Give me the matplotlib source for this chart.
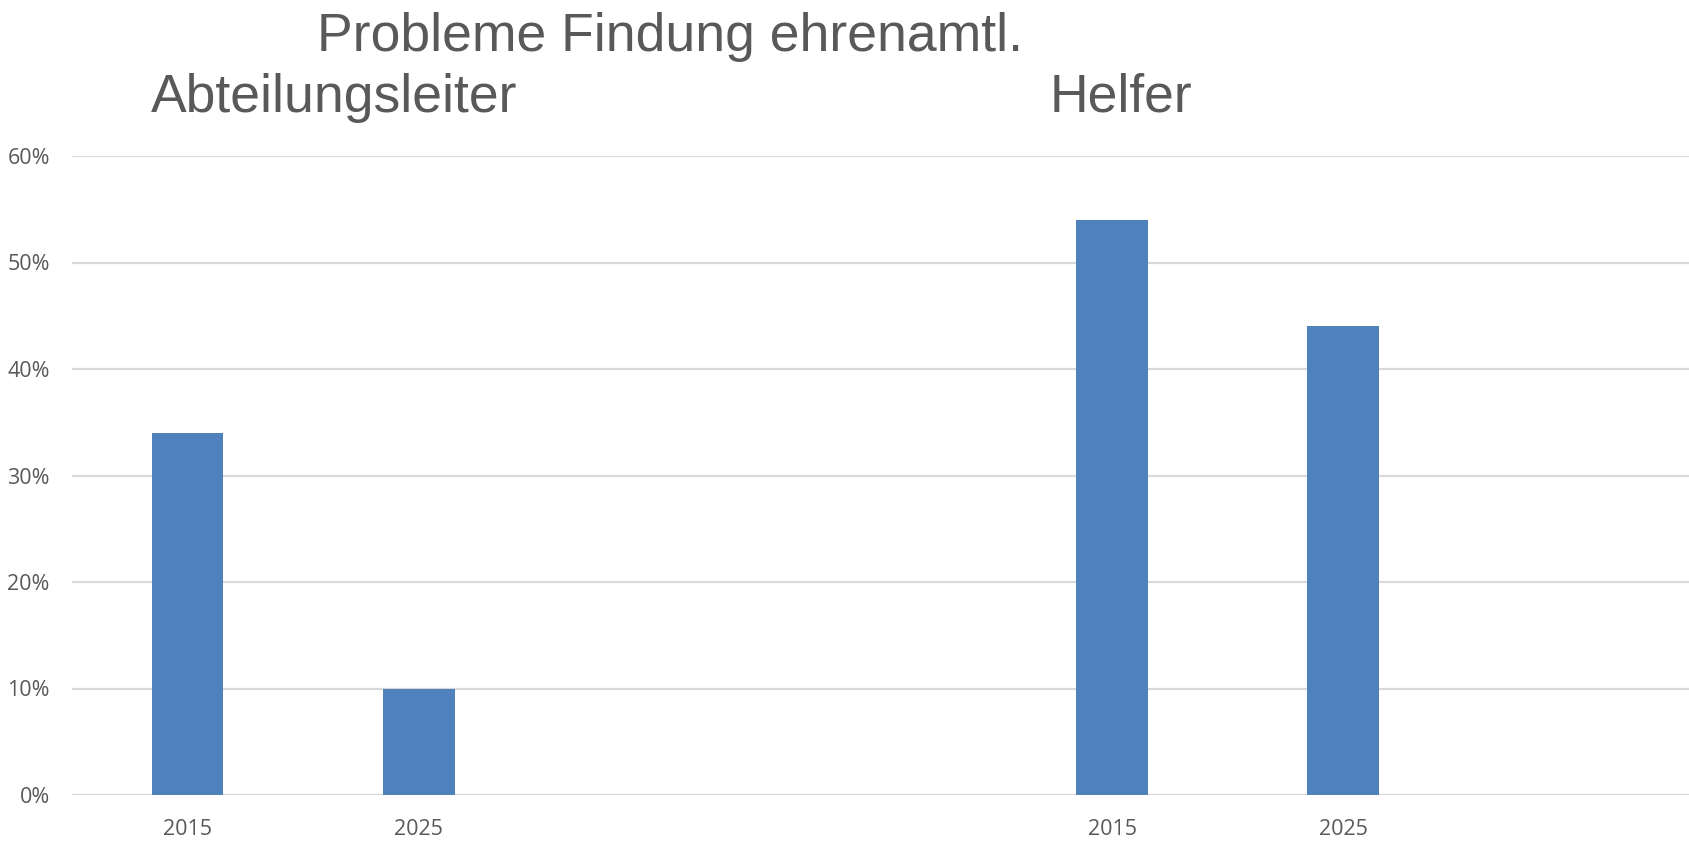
import matplotlib
matplotlib.use("Agg")
import matplotlib.pyplot as plt
from matplotlib.ticker import PercentFormatter

categories = ["2015", "2025", "", "", "2015", "2025", ""]
values = [0.34, 0.10, None, None, 0.54, 0.44, None]
y_ticks = [0, 0.1, 0.2, 0.3, 0.4, 0.5, 0.6]
title = "Probleme Findung ehrenamtl."
group_labels = ["Abteilungsleiter", "Helfer"]

fig = plt.figure(figsize=(16.9, 8.44), dpi=100)
ax = fig.add_axes([72/1690, 49/844, 1 - 72/1690, (795-156)/844])

x = list(range(len(categories)))
xs = [i for i, v in zip(x, values) if v is not None]
vs = [v for v in values if v is not None]
ax.bar(xs, vs, width=0.31, color="#4f81bd", zorder=3)

ax.set_xlim(-0.5, len(categories) - 0.5)
ax.set_ylim(0, 0.6)
ax.set_yticks(y_ticks)
ax.yaxis.set_major_formatter(PercentFormatter(1.0, decimals=0))
ax.set_xticks(x)
ax.set_xticklabels(categories)
ax.grid(axis="y", color="#d9d9d9", linewidth=1.6, zorder=0)
for s in ax.spines.values():
    s.set_visible(False)
ax.tick_params(axis="both", length=0, labelsize=15.5, colors="#595959")
ax.tick_params(axis="y", pad=16)
ax.tick_params(axis="x", pad=17)
for lab in ax.get_xticklabels() + ax.get_yticklabels():
    lab.set_fontfamily("Open Sans")

tkw = dict(fontfamily="Liberation Sans", color="#595959", fontsize=38.5)
fig.text(670/1690, 1 - 37/844, title, ha="center", va="center", **tkw)
fig.text(151/1690, 1 - 98/844, group_labels[0], ha="left", va="center", **tkw)
fig.text(1050/1690, 1 - 98/844, group_labels[1], ha="left", va="center", **tkw)

fig.savefig("out.png", dpi=100, facecolor="white")
